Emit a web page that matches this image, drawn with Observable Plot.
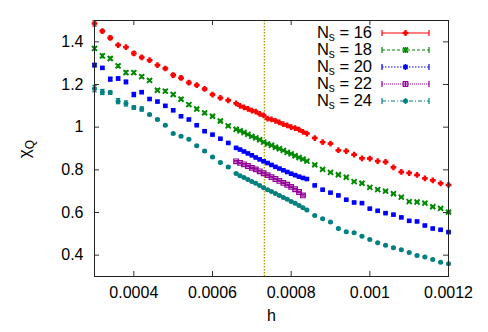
<!DOCTYPE html>
<html><head><meta charset="utf-8">
<script src="https://cdn.jsdelivr.net/npm/d3@7"></script>
<script src="https://cdn.jsdelivr.net/npm/@observablehq/plot@0.6"></script>
<style>
html,body{margin:0;padding:0;background:#fff;}
#wrap{width:488px;height:332px;}
</style></head><body><div id="wrap"></div>
<script>
// ---- data ----
const xTicks = [0.0004, 0.0006, 0.0008, 0.001, 0.0012];
const xTickLabels = ["0.0004", "0.0006", "0.0008", "0.001", "0.0012"];
const yTicks = [0.4, 0.6, 0.8, 1.0, 1.2, 1.4];
const yTickLabels = ["0.4", "0.6", "0.8", "1", "1.2", "1.4"];
const hCritical = 0.000732;

const hLow = [0.0003,0.00032,0.00034,0.00036,0.00038,0.0004,0.00042,0.00044,0.00046,0.00048,0.0005,0.00052,0.00054,0.00056,0.00058,0.0006,0.00062,0.00064];
const hDense = [0.00066,0.00067,0.00068,0.00069,0.0007,0.00071,0.00072,0.00073,0.00074,0.00075,0.00076,0.00077,0.00078,0.00079,0.0008,0.00081,0.00082,0.00083,0.00084];
const hHigh = [0.00086,0.00088,0.0009,0.00092,0.00094,0.00096,0.00098,0.001,0.00102,0.00104,0.00106,0.00108,0.0011,0.00112,0.00114,0.00116,0.00118,0.0012];
const h22 = [0.00066,0.00067,0.00068,0.00069,0.0007,0.00071,0.00072,0.00073,0.00074,0.00075,0.00076,0.00077,0.00078,0.00079,0.0008,0.00081,0.00082,0.00083];

const chi16Low = [1.486,1.450,1.419,1.385,1.375,1.346,1.327,1.314,1.291,1.275,1.244,1.231,1.209,1.197,1.179,1.153,1.137,1.126];
const chi16Dense = [1.112,1.100,1.093,1.086,1.078,1.073,1.062,1.055,1.040,1.036,1.030,1.022,1.014,1.008,1.000,0.996,0.988,0.978,0.970];
const chi16High = [0.949,0.930,0.923,0.892,0.888,0.871,0.854,0.853,0.841,0.837,0.812,0.790,0.785,0.776,0.760,0.751,0.737,0.729];

const chi18Low = [1.369,1.334,1.322,1.287,1.256,1.256,1.237,1.219,1.173,1.169,1.153,1.131,1.106,1.085,1.067,1.051,1.029,1.006];
const chi18Dense = [0.990,0.983,0.975,0.966,0.957,0.950,0.941,0.930,0.922,0.915,0.906,0.899,0.891,0.882,0.875,0.866,0.858,0.850,0.841];
const chi18High = [0.823,0.802,0.788,0.777,0.765,0.745,0.737,0.718,0.707,0.700,0.688,0.672,0.651,0.649,0.644,0.627,0.619,0.602];

const chi20Low = [1.291,1.278,1.225,1.228,1.212,1.153,1.164,1.132,1.120,1.100,1.079,1.051,1.036,1.009,0.981,0.965,0.946,0.926];
const chi20Dense = [0.903,0.895,0.886,0.877,0.868,0.858,0.849,0.840,0.832,0.823,0.814,0.806,0.798,0.790,0.782,0.775,0.768,0.762,0.757];
const chi20High = [0.727,0.707,0.693,0.680,0.660,0.647,0.644,0.618,0.608,0.597,0.590,0.577,0.561,0.558,0.539,0.525,0.519,0.508];

const chi22Dense = [0.840,0.833,0.826,0.818,0.809,0.802,0.793,0.784,0.775,0.766,0.757,0.748,0.739,0.730,0.720,0.709,0.696,0.680];

const chi24Low = [1.181,1.165,1.162,1.122,1.111,1.092,1.085,1.059,1.036,1.009,0.970,0.957,0.943,0.913,0.888,0.860,0.834,0.813];
const chi24Dense = [0.783,0.772,0.764,0.755,0.745,0.737,0.726,0.716,0.707,0.698,0.689,0.680,0.670,0.662,0.652,0.643,0.633,0.622,0.612];
const chi24High = [0.586,0.571,0.555,0.525,0.510,0.505,0.489,0.474,0.458,0.446,0.435,0.425,0.413,0.399,0.391,0.380,0.367,0.360];

const err16Low = [0.012,0.007,0.008,0.004,0.004,0.008,0.006,0.004,0.004,0.006,0.008,0.008,0.007,0.005,0.006,0.005,0.004,0.004];
const err18Low = [0.006,0.008,0.006,0.007,0.007,0.006,0.006,0.005,0.005,0.006,0.005,0.005,0.005,0.005,0.005,0.004,0.004,0.004];
const err20Low = [0.008,0.005,0.009,0.007,0.008,0.010,0.006,0.006,0.005,0.005,0.005,0.005,0.004,0.004,0.004,0.004,0.004,0.004];
const err24Low = [0.015,0.012,0.008,0.012,0.012,0.008,0.010,0.005,0.005,0.004,0.004,0.004,0.004,0.004,0.004,0.004,0.004,0.004];
const errDefault = 0.003;

const sizes = [16, 18, 20, 22, 24];

// ---- series definitions ----
const series = [
  {n:16, h:[...hLow,...hDense,...hHigh], v:[...chi16Low,...chi16Dense,...chi16High], e:err16Low,
   color:"#ff0000", symbol:"plus", r:2.0, mode:"stroke", sw:2.4, dash:null},
  {n:18, h:[...hLow,...hDense,...hHigh], v:[...chi18Low,...chi18Dense,...chi18High], e:err18Low,
   color:"#008a00", symbol:"times", r:2.4, mode:"stroke", sw:1.9, dash:"3,2"},
  {n:20, h:[...hLow,...hDense,...hHigh], v:[...chi20Low,...chi20Dense,...chi20High], e:err20Low,
   color:"#0000ff", symbol:"square", r:2.6, mode:"fill", sw:1, dash:"1.5,1.5"},
  {n:22, h:h22, v:chi22Dense, e:[],
   color:"#94009a", symbol:"square", r:2.6, mode:"hollow", sw:1.2, dash:"1,1"},
  {n:24, h:[...hLow,...hDense,...hHigh], v:[...chi24Low,...chi24Dense,...chi24High], e:err24Low,
   color:"#008080", symbol:"circle", r:2.5, mode:"fill", sw:1, dash:"4,2,1,2"}
];

const capSymbol = {draw(ctx){ ctx.moveTo(-2.2,0); ctx.lineTo(2.2,0); }};

const marks = [
  Plot.ruleX([hCritical], {stroke:"#a8a000", strokeWidth:1.4, strokeDasharray:"1.5,1.5"})
];
for (const s of series) {
  const rows = s.h.map((h,i)=>({h, v:s.v[i], e: (s.e[i] ?? errDefault)}));
  marks.push(Plot.ruleX(rows, {x:"h", y1:d=>d.v-d.e, y2:d=>d.v+d.e, stroke:s.color, strokeWidth:1.2}));
  marks.push(Plot.dot(rows, {x:"h", y:d=>d.v-d.e, symbol:capSymbol, r:2, stroke:s.color, fill:"none", strokeWidth:1.2}));
  marks.push(Plot.dot(rows, {x:"h", y:d=>d.v+d.e, symbol:capSymbol, r:2, stroke:s.color, fill:"none", strokeWidth:1.2}));
  if (s.mode === "fill")
    marks.push(Plot.dot(rows, {x:"h", y:"v", symbol:s.symbol, r:s.r, fill:s.color, stroke:"none"}));
  else
    marks.push(Plot.dot(rows, {x:"h", y:"v", symbol:s.symbol, r:s.r, stroke:s.color, fill:"none", strokeWidth:s.sw}));
}

const W = 488, H = 332, mL = 94, mR = 40, mT = 20, mB = 56;
const pw = W - mL - mR, ph = H - mT - mB;
const tickLen = 5;

marks.push(
  Plot.tickX(xTicks, {x:d=>d, insetTop: ph - tickLen, stroke:"#333", strokeWidth:1}),
  Plot.tickX(xTicks, {x:d=>d, insetBottom: ph - tickLen, stroke:"#333", strokeWidth:1}),
  Plot.tickY(yTicks, {y:d=>d, insetRight: pw - tickLen, stroke:"#333", strokeWidth:1}),
  Plot.tickY(yTicks, {y:d=>d, insetLeft: pw - tickLen, stroke:"#333", strokeWidth:1}),
  Plot.axisX(xTicks, {tickSize:0, tickPadding:10, tickFormat:d=>xTickLabels[xTicks.indexOf(d)], label:null, fontSize:16, fill:"#000"}),
  Plot.axisY(yTicks, {tickSize:0, tickPadding:11, tickFormat:d=>yTickLabels[yTicks.indexOf(d)], label:null, fontSize:16, fill:"#000"}),
  Plot.text(["h"], {text:d=>d, frameAnchor:"bottom", dy:44, fontSize:16, fill:"#000"}),
  Plot.frame({stroke:"#222", strokeWidth:1})
);

const svg = Plot.plot({
  width:W, height:H, marginLeft:mL, marginRight:mR, marginTop:mT, marginBottom:mB,
  x:{domain:[0.0003, 0.0012]},
  y:{domain:[0.3, 1.5]},
  style:{fontFamily:"'Liberation Sans', Arial, sans-serif", background:"#fff", color:"#000"},
  marks
});
document.getElementById("wrap").appendChild(svg);

// ---- y label (χ with subscript Q) ----
const root = d3.select(svg);
const yl = root.append("text")
  .attr("transform","translate(30,149) rotate(-90)")
  .attr("text-anchor","middle")
  .attr("font-family","'Liberation Sans', Arial, sans-serif")
  .attr("font-size",17).attr("fill","#000");
yl.append("tspan").text("χ");
yl.append("tspan").attr("font-size",12).attr("dy",4).text("Q");

// ---- legend ----
const lg = root.append("g").attr("font-family","'Liberation Sans', Arial, sans-serif").attr("fill","#000");
series.forEach((s, i) => {
  const cy = 33 + i * 17;
  const t = lg.append("text").attr("x",372).attr("y",cy+5).attr("text-anchor","end").attr("font-size",16.5);
  t.append("tspan").text("N");
  t.append("tspan").attr("font-size",12).attr("dy",3).text("s");
  t.append("tspan").attr("dy",-3).text(" = " + sizes[i]);
  const x1 = 382, x2 = 429, xm = (x1 + x2) / 2;
  lg.append("line").attr("x1",x1).attr("x2",x2).attr("y1",cy).attr("y2",cy)
    .attr("stroke",s.color).attr("stroke-width",1.2).attr("stroke-dasharray",s.dash);
  for (const x of [x1, x2]) {
    lg.append("line").attr("x1",x).attr("x2",x).attr("y1",cy-3).attr("y2",cy+3)
      .attr("stroke",s.color).attr("stroke-width",1.2);
  }
  lg.append("line").attr("x1",xm).attr("x2",xm).attr("y1",cy-3).attr("y2",cy+3)
    .attr("stroke",s.color).attr("stroke-width",1.2);
  const symMap = {plus:d3.symbolPlus, times:d3.symbolTimes, square:d3.symbolSquare, circle:d3.symbolCircle};
  const path = d3.symbol(symMap[s.symbol], s.r * s.r * Math.PI)();
  const p = lg.append("path").attr("d", path).attr("transform",`translate(${xm},${cy})`);
  if (s.mode === "fill") p.attr("fill", s.color);
  else p.attr("fill","none").attr("stroke", s.color).attr("stroke-width", s.sw);
});
</script></body></html>
